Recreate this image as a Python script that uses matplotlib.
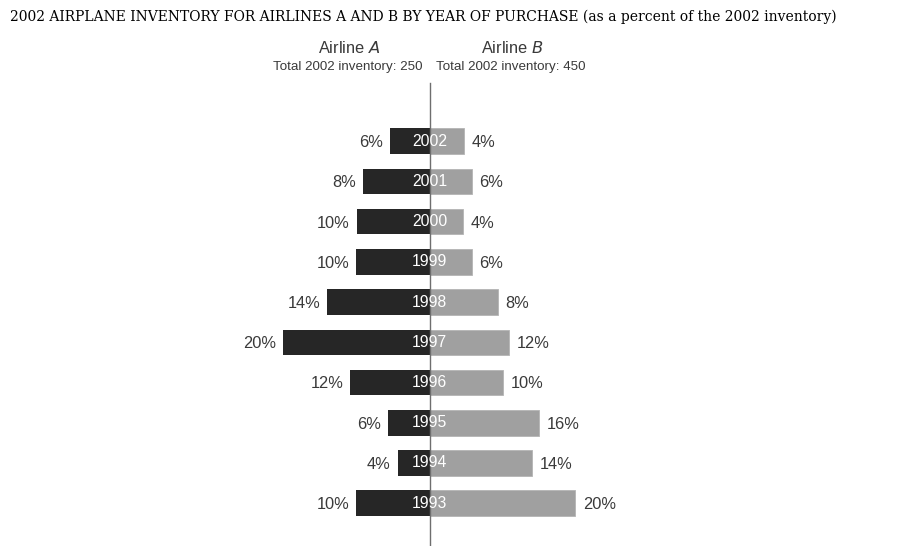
import matplotlib.pyplot as plt

years = ["2002", "2001", "2000", "1999", "1998", "1997", "1996", "1995", "1994", "1993"]
# percent labels as printed
label_a = [6, 8, 10, 10, 14, 20, 12, 6, 4, 10]
label_b = [4, 6, 4, 6, 8, 12, 10, 16, 14, 20]
# bar lengths as drawn (percent)
bar_a = [5.4, 9.2, 10.0, 10.1, 14.0, 20.05, 10.9, 5.7, 4.4, 10.1]
bar_b = [4.7, 5.75, 4.6, 5.75, 9.3, 10.9, 10.0, 15.0, 14.05, 19.95]

plt.rcParams['font.family'] = ['Liberation Sans', 'DejaVu Sans']

fig = plt.figure(figsize=(9.03, 5.46), dpi=100)
ax = fig.add_axes([0, 0, 1, 1])

# pixel layout: centre line at x=430, 7.3 px per percent, rows 40.2 px apart from y=141
cx, ppp = 429.7, 7.3
y0, dy = 141.2, 40.22
ax.set_xlim(-cx / ppp, (903 - cx) / ppp)
ax.set_ylim((546 - y0) / dy, -y0 / dy)
ax.axis('off')

rows = list(range(len(years)))
ax.barh(rows, [-v for v in bar_a], height=0.635, color='#262626', zorder=2)
ax.barh(rows, bar_b, height=0.635, color='#a0a0a0', edgecolor='#b4b4b4', lw=0.6, zorder=2)

# centre line
ax.plot([0, 0], [(83 - y0) / dy, (546 - y0) / dy], color='#6e6e6e', lw=1.0, zorder=3)

txt = '#3a3a3a'
for i, (y, a, b, la, lb) in enumerate(zip(years, bar_a, bar_b, label_a, label_b)):
    ax.text(0, i, y, color='white', ha='center', va='center', fontsize=11.3, zorder=4)
    ax.annotate(f"{la}%", (-a, i), xytext=(-5, -1), textcoords='offset points',
                ha='right', va='center', fontsize=11.8, color=txt)
    ax.annotate(f"{lb}%", (b, i), xytext=(5.5, -1), textcoords='offset points',
                ha='left', va='center', fontsize=11.8, color=txt)

# headers
fig.text(349.5 / 903, 1 - 48 / 546, "Airline $\\mathit{A}$", ha='center', va='center',
         fontsize=11.8, color=txt)
fig.text(512 / 903, 1 - 48 / 546, "Airline $\\mathit{B}$", ha='center', va='center',
         fontsize=11.8, color=txt)
fig.text(348 / 903, 1 - 67 / 546, "Total 2002 inventory: 250", ha='center', va='center',
         fontsize=9.6, color=txt)
fig.text(511 / 903, 1 - 67 / 546, "Total 2002 inventory: 450", ha='center', va='center',
         fontsize=9.6, color=txt)

fig.text(10 / 903, 1 - 17 / 546,
         "2002 AIRPLANE INVENTORY FOR AIRLINES A AND B BY YEAR OF PURCHASE (as a percent of the 2002 inventory)",
         ha='left', va='center', fontsize=10.03, color='black', family='DejaVu Serif')

fig.savefig('out.png', dpi=100)
